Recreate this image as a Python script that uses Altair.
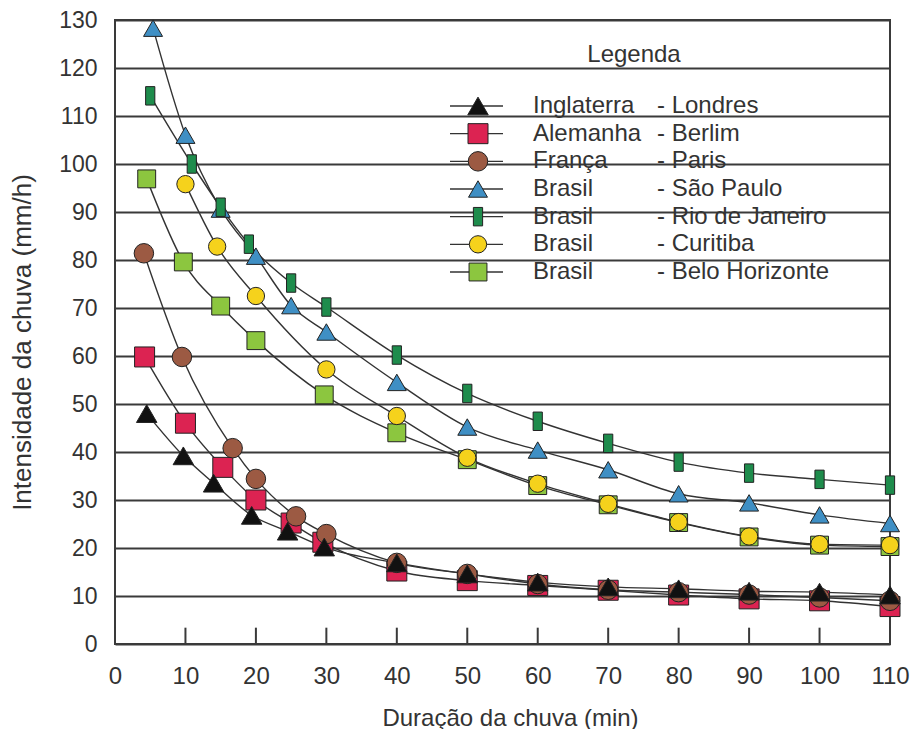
import altair as alt
import pandas as pd

# ---- data ----
series = ["Londres", "Berlim", "Paris", "São Paulo", "Rio de Janeiro", "Belo Horizonte", "Curitiba"]
legend_order = ["Londres", "Berlim", "Paris", "São Paulo", "Rio de Janeiro", "Curitiba", "Belo Horizonte"]
draw_order = ["Berlim", "Paris", "Londres", "São Paulo", "Rio de Janeiro", "Belo Horizonte", "Curitiba"]
countries = {"Londres": "Inglaterra", "Berlim": "Alemanha", "Paris": "França", "São Paulo": "Brasil",
             "Rio de Janeiro": "Brasil", "Curitiba": "Brasil", "Belo Horizonte": "Brasil"}

londres_x = [4.5, 9.7, 14, 19.4, 24.5, 29.7, 40, 50, 60, 70, 80, 90, 100, 110]
londres_y = [48, 39.2, 33.5, 26.8, 23.5, 20.2, 16.9, 14.6, 12.9, 11.9, 11.5, 11.0, 10.8, 10.2]

berlim_x = [4.2, 10, 15.3, 20, 25, 29.5, 40, 50, 60, 70, 80, 90, 100, 110]
berlim_y = [59.8, 46, 36.8, 30, 25.2, 21.2, 15.2, 13.2, 12.2, 11.2, 10.2, 9.4, 9.0, 7.8]

paris_x = [4.1, 9.5, 16.7, 20, 25.7, 30, 40, 50, 60, 70, 80, 90, 100, 110]
paris_y = [81.4, 59.8, 40.8, 34.4, 26.6, 22.9, 16.9, 14.6, 12.5, 11.3, 10.8, 10.3, 9.7, 9.0]

saopaulo_x = [5.4, 10, 15, 20, 25, 30, 40, 50, 60, 70, 80, 90, 100, 110]
saopaulo_y = [128.3, 106, 90.6, 80.8, 70.5, 65, 54.5, 45.2, 40.4, 36.3, 31.3, 29.4, 26.9, 25.1]

rio_x = [5, 10.9, 15, 19, 25, 30, 40, 50, 60, 70, 80, 90, 100, 110]
rio_y = [114.2, 100, 91, 83.3, 75.2, 70.2, 60.2, 52.2, 46.4, 41.8, 37.9, 35.6, 34.3, 33.1]

curitiba_x = [10, 14.5, 20, 30, 40, 50, 60, 70, 80, 90, 100, 110]
curitiba_y = [95.8, 82.8, 72.5, 57.2, 47.5, 38.8, 33.4, 29.2, 25.4, 22.4, 20.8, 20.6]

bh_x = [4.5, 9.7, 15, 20, 29.7, 40, 50, 60, 70, 80, 90, 100, 110]
bh_y = [96.9, 79.6, 70.4, 63.2, 51.9, 44, 38.4, 33, 29, 25.3, 22.3, 20.6, 20.3]

x_ticks = list(range(0, 111, 10))
y_ticks = list(range(0, 131, 10))

# ---- styles ----
fills = ["#111111", "#dc2352", "#9c5a43", "#3f8fc4", "#1e8c4c", "#8cc63f", "#f5d21c"]
rect_path = "M-0.5,-1L0.5,-1L0.5,1L-0.5,1Z"
shapes = ["triangle-up", "square", "circle", "triangle-up", rect_path, "square", "circle"]
sizes = [420, 300, 260, 460, 300, 300, 280]

rows = []
for name, xs, ys in [("Londres", londres_x, londres_y), ("Berlim", berlim_x, berlim_y),
                     ("Paris", paris_x, paris_y), ("São Paulo", saopaulo_x, saopaulo_y),
                     ("Rio de Janeiro", rio_x, rio_y), ("Belo Horizonte", bh_x, bh_y),
                     ("Curitiba", curitiba_x, curitiba_y)]:
    for a, b in zip(xs, ys):
        rows.append({"serie": name, "x": a, "y": b, "ord": draw_order.index(name)})
df = pd.DataFrame(rows)

leg_df = pd.DataFrame({"serie": legend_order,
                       "pais": [countries[s] for s in legend_order],
                       "cidade": ["- " + s for s in legend_order]})
ticks_df = pd.DataFrame({"x": x_ticks, "y0": [0] * len(x_ticks), "y1": [3.4] * len(x_ticks)})
title_df = pd.DataFrame({"t": ["Legenda"]})

FONT = "Liberation Sans"
TXT = "#333333"
GRID = "#3a3a3a"

xscale = alt.Scale(domain=[0, 110], nice=False, zero=False)
yscale = alt.Scale(domain=[0, 130], nice=False)
fill_scale = alt.Scale(domain=series, range=fills)
shape_scale = alt.Scale(domain=series, range=shapes)
size_scale = alt.Scale(domain=series, range=sizes)

x_enc = alt.X("x:Q", scale=xscale,
              axis=alt.Axis(values=x_ticks, grid=False, ticks=False, domain=False,
                            labelFlush=False, labelOverlap=False,
                            labelFontSize=24, labelFont=FONT, labelColor=TXT, labelPadding=20,
                            title="Duração da chuva (min)", titleFont=FONT, titleFontSize=24,
                            titleFontWeight="normal", titleColor=TXT, titleX=395, titleY=74,
                            titleBaseline="middle"))
y_enc = alt.Y("y:Q", scale=yscale,
              axis=alt.Axis(values=y_ticks, grid=True, gridColor=GRID, gridWidth=2, gridOpacity=1,
                            ticks=False, domain=False, labelFlush=False, labelOverlap=False,
                            labelFontSize=23, labelFont=FONT, labelColor=TXT, labelPadding=18,
                            title="Intensidade da chuva (mm/h)", titleFont=FONT, titleFontSize=26,
                            titleFontWeight="normal", titleColor=TXT, titleX=-93, titleY=322,
                            titleAngle=-90, titleBaseline="middle", titleAlign="center"))

ticks_layer = alt.Chart(ticks_df).mark_rule(color=GRID, strokeWidth=2).encode(
    x=alt.X("x:Q", scale=xscale), y=alt.Y("y0:Q", scale=yscale), y2="y1:Q")

lines = alt.Chart(df).mark_line(interpolate="monotone", color="#333333", strokeWidth=1.4).encode(
    x=x_enc, y=y_enc, detail="serie:N", order="x:Q")

points = alt.Chart(df).mark_point(filled=True, stroke="#222222", strokeWidth=1, opacity=1).encode(
    x=alt.X("x:Q", scale=xscale),
    y=alt.Y("y:Q", scale=yscale),
    fill=alt.Fill("serie:N", scale=fill_scale, legend=None),
    shape=alt.Shape("serie:N", scale=shape_scale, legend=None),
    size=alt.Size("serie:N", scale=size_scale, legend=None),
    order=alt.Order("ord:Q"))

main = alt.layer(lines, ticks_layer, points)

leg_y = alt.Y("serie:N", scale=alt.Scale(type="point", domain=legend_order, range=[86, 252], padding=0),
              axis=None)

leg_lines = alt.Chart(leg_df).mark_rule(color="#333333", strokeWidth=1.4).encode(
    x=alt.value(335), x2=alt.value(388), y=leg_y)
leg_points = alt.Chart(leg_df).mark_point(filled=True, stroke="#222222", strokeWidth=1, opacity=1).encode(
    x=alt.value(363), y=leg_y,
    fill=alt.Fill("serie:N", scale=fill_scale, legend=None),
    shape=alt.Shape("serie:N", scale=shape_scale, legend=None),
    size=alt.Size("serie:N", scale=size_scale, legend=None))
leg_country = alt.Chart(leg_df).mark_text(align="left", baseline="middle", font=FONT, fontSize=24,
                                          color=TXT).encode(x=alt.value(418), y=leg_y, text="pais:N")
leg_city = alt.Chart(leg_df).mark_text(align="left", baseline="middle", font=FONT, fontSize=24,
                                       color=TXT).encode(x=alt.value(542), y=leg_y, text="cidade:N")
leg_title = alt.Chart(title_df).mark_text(align="center", baseline="middle", font=FONT, fontSize=24,
                                          color=TXT).encode(x=alt.value(519), y=alt.value(35), text="t:N")

legend = alt.layer(leg_lines, leg_points, leg_country, leg_city, leg_title)

chart = alt.layer(main, legend).resolve_scale(y="independent").properties(
    width=775, height=624,
    autosize=alt.AutoSizeParams(type="none"),
    padding={"left": 107, "top": 12, "right": 20, "bottom": 85},
    background="white",
).configure_view(stroke=GRID, strokeWidth=2)

chart.save("out.html", embed_options={"renderer": "svg", "actions": False})
